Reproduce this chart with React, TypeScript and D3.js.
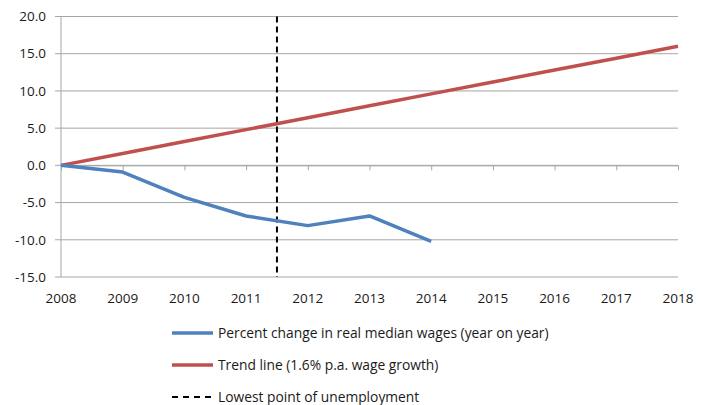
import React, { useEffect, useRef } from 'react';
import * as d3 from 'd3';

const years = [2008, 2009, 2010, 2011, 2012, 2013, 2014, 2015, 2016, 2017, 2018];
const wageYears = [2008, 2009, 2010, 2011, 2012, 2013, 2014];
const wageChange = [0, -0.9, -4.3, -6.8, -8.1, -6.8, -10.2];
const trendValues = [0, 1.6, 3.2, 4.8, 6.4, 8.0, 9.6, 11.2, 12.8, 14.4, 16.0];
const yTicks = [20, 15, 10, 5, 0, -5, -10, -15];
const lowestUnemployment = 2011.5;
const legendLabels = [
  'Percent change in real median wages (year on year)',
  'Trend line (1.6% p.a. wage growth)',
  'Lowest point of unemployment',
];

const App: React.FC = () => {
  const svgRef = useRef<SVGSVGElement>(null);

  useEffect(() => {
    if (!svgRef.current) return;
    const svg = d3.select(svgRef.current);
    svg.selectAll('*').remove();

    const width = 709;
    const height = 405;
    const font = '"Open Sans", sans-serif';

    const x = d3.scaleLinear().domain([2008, 2018]).range([61, 678]);
    const y = d3.scaleLinear().domain([-15, 20]).range([277, 16.5]);

    svg.attr('width', width).attr('height', height);

    // Gridlines
    svg.append('g')
      .selectAll('line')
      .data(yTicks)
      .enter()
      .append('line')
      .attr('x1', x(2008) - 6)
      .attr('x2', x(2018))
      .attr('y1', d => y(d))
      .attr('y2', d => y(d))
      .attr('stroke', '#a6a6a6')
      .attr('stroke-width', 1);

    // Y axis line
    svg.append('line')
      .attr('x1', x(2008)).attr('x2', x(2008))
      .attr('y1', y(20)).attr('y2', y(-15))
      .attr('stroke', '#a6a6a6');

    // X axis (at zero) with ticks
    const xAxis = svg.append('g')
      .attr('transform', `translate(0,${y(0)})`)
      .call(d3.axisBottom(x).tickValues(years).tickSize(5).tickSizeOuter(0).tickFormat(() => ''));
    xAxis.select('.domain').attr('stroke', '#a6a6a6');
    xAxis.selectAll('.tick line').attr('stroke', '#a6a6a6');

    // Y tick labels
    svg.append('g')
      .selectAll('text')
      .data(yTicks)
      .enter()
      .append('text')
      .attr('x', 46)
      .attr('y', d => y(d))
      .attr('dy', '0.35em')
      .attr('text-anchor', 'end')
      .attr('font-family', font)
      .attr('font-size', 13.5)
      .attr('fill', '#1a1a1a')
      .text(d => d.toFixed(1));

    // X tick labels
    svg.append('g')
      .selectAll('text')
      .data(years)
      .enter()
      .append('text')
      .attr('x', d => x(d))
      .attr('y', 298)
      .attr('dy', '0.35em')
      .attr('text-anchor', 'middle')
      .attr('font-family', font)
      .attr('font-size', 13.5)
      .attr('fill', '#1a1a1a')
      .text(d => String(d));

    // Dashed vertical line
    svg.append('line')
      .attr('x1', x(lowestUnemployment)).attr('x2', x(lowestUnemployment))
      .attr('y1', y(20)).attr('y2', y(-15))
      .attr('stroke', '#000')
      .attr('stroke-width', 2)
      .attr('stroke-dasharray', '6,4');

    const line = d3.line<[number, number]>().x(d => x(d[0])).y(d => y(d[1]));

    // Trend line
    svg.append('path')
      .datum(years.map((yr, i) => [yr, trendValues[i]] as [number, number]))
      .attr('d', line)
      .attr('fill', 'none')
      .attr('stroke', '#c0504d')
      .attr('stroke-width', 3.5)
      .attr('stroke-linejoin', 'round');

    // Wage line
    svg.append('path')
      .datum(wageYears.map((yr, i) => [yr, wageChange[i]] as [number, number]))
      .attr('d', line)
      .attr('fill', 'none')
      .attr('stroke', '#4f81bd')
      .attr('stroke-width', 3.5)
      .attr('stroke-linejoin', 'round');

    // Legend
    const legendColors = ['#4f81bd', '#c0504d', '#000'];
    const legend = svg.append('g');
    legendLabels.forEach((label, i) => {
      const ly = 333 + i * 32;
      legend.append('line')
        .attr('x1', 172).attr('x2', 213)
        .attr('y1', ly).attr('y2', ly)
        .attr('stroke', legendColors[i])
        .attr('stroke-width', i === 2 ? 2 : 3.5)
        .attr('stroke-dasharray', i === 2 ? '6,5' : null);
      legend.append('text')
        .attr('x', 218)
        .attr('y', ly)
        .attr('dy', '0.35em')
        .attr('font-family', font)
        .attr('font-size', 13.8)
        .attr('fill', '#1a1a1a')
        .text(label);
    });
  }, []);

  return (
    <svg ref={svgRef} style={{ position: 'absolute', left: 0, top: 0, display: 'block' }}></svg>
  );
};

export default App;
